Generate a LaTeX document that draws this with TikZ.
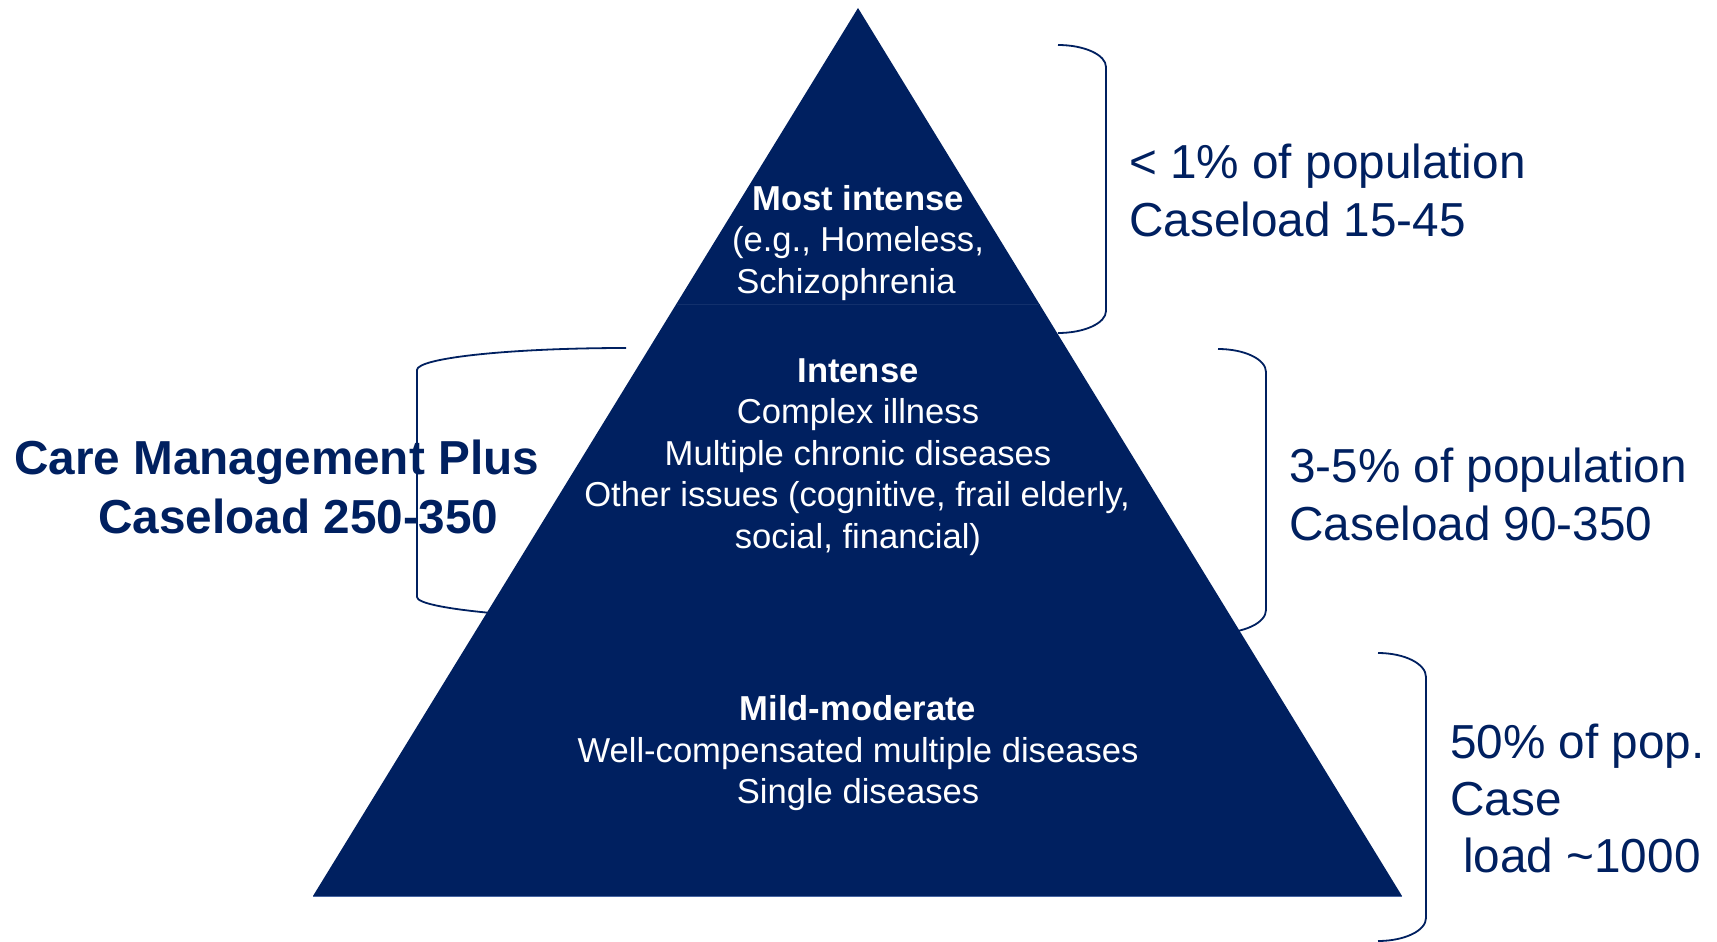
\documentclass[tikz,border=0pt]{standalone}
\usepackage{fontspec}
\setmainfont{Liberation Sans}
\definecolor{pyrnavy}{RGB}{0,32,96}
\definecolor{pyrseam}{RGB}{18,48,108}
\definecolor{pyrbase}{RGB}{70,100,160}
\begin{document}
\begin{tikzpicture}[x=1pt,y=-1pt,
  bracket/.style={draw=pyrnavy,line width=1.8pt},
  sidetxt/.style={text=pyrnavy,inner sep=0pt,anchor=base west,font=\fontsize{47.7}{55}\selectfont},
  sidebold/.style={sidetxt,font=\fontsize{47.7}{55}\selectfont\bfseries},
  tritxt/.style={text=white,inner sep=0pt,anchor=base,font=\fontsize{34.6}{41.6}\selectfont},
  tribold/.style={tritxt,font=\fontsize{34.6}{41.6}\selectfont\bfseries}]

% canvas
\useasboundingbox (0,0) rectangle (1717,942);
\fill[white] (0,0) rectangle (1717,942);

% brackets on the right: top, middle, bottom tier
\draw[bracket] (1058,45) .. controls (1084.5,45) and (1106,54.9) .. (1106,67)
  -- (1106,311) .. controls (1106,323.1) and (1084.5,333) .. (1058,333);
\draw[bracket] (1218,349) .. controls (1244.5,349) and (1266,359.3) .. (1266,372)
  -- (1266,610) .. controls (1266,622.7) and (1244.5,633) .. (1218,633);
\draw[bracket] (1378,653) .. controls (1404.5,653) and (1426,663.8) .. (1426,677)
  -- (1426,918) .. controls (1426,930.7) and (1404.5,941) .. (1378,941);

% long bracket on the left
\draw[bracket] (626,348) .. controls (510.6,348) and (417,357.9) .. (417,370)
  -- (417,597) .. controls (417,609.1) and (532.4,619) .. (626,619);

% pyramid
\coordinate (apex) at (858,8);
\coordinate (bl) at (313,896);
\coordinate (br) at (1402,896);
\fill[pyrnavy] (apex) -- (br) -- (bl) -- cycle;
\coordinate (seamL) at (676.5,304);
\coordinate (seamR) at (1039.5,304);
\draw[pyrseam,line width=1pt] (seamL) -- (seamR);
\draw[pyrbase,line width=1pt] (bl) -- (br);

% top tier
\node[tribold] (t1) at (858,210) {Most intense};
\node[tritxt]  (t2) at (858,251.5) {(e.g., Homeless,};
\node[tritxt]  (t3) at (846,293) {Schizophrenia};

% middle tier
\node[tribold] (m1) at (858,382) {Intense};
\node[tritxt]  (m2) at (858,423.6) {Complex illness};
\node[tritxt]  (m3) at (858,465.2) {Multiple chronic diseases};
\node[tritxt]  (m4) at (857,506.8) {Other issues (cognitive, frail elderly,};
\node[tritxt]  (m5) at (858,548.4) {social, financial)};

% bottom tier
\node[tribold] (b1) at (858,720.5) {Mild-moderate};
\node[tritxt]  (b2) at (858,762.1) {Well-compensated multiple diseases};
\node[tritxt]  (b3) at (858,803.7) {Single diseases};

% side labels
\node[sidetxt] (r1) at (1129,178) {< 1\% of population};
\node[sidetxt] (r2) at (1129,236) {Caseload 15-45};
\node[sidetxt] (r3) at (1289,482.5) {3-5\% of population};
\node[sidetxt] (r4) at (1289,540) {Caseload 90-350};
\node[sidetxt] (r5) at (1450,758) {50\% of pop.};
\node[sidetxt] (r6) at (1450,815) {Case};
\node[sidetxt] (r7) at (1463,872) {load \textasciitilde1000};

\node[sidebold] (l1) at (14,474) {Care Management Plus};
\node[sidebold] (l2) at (98,533) {Caseload 250-350};
\end{tikzpicture}
\end{document}
